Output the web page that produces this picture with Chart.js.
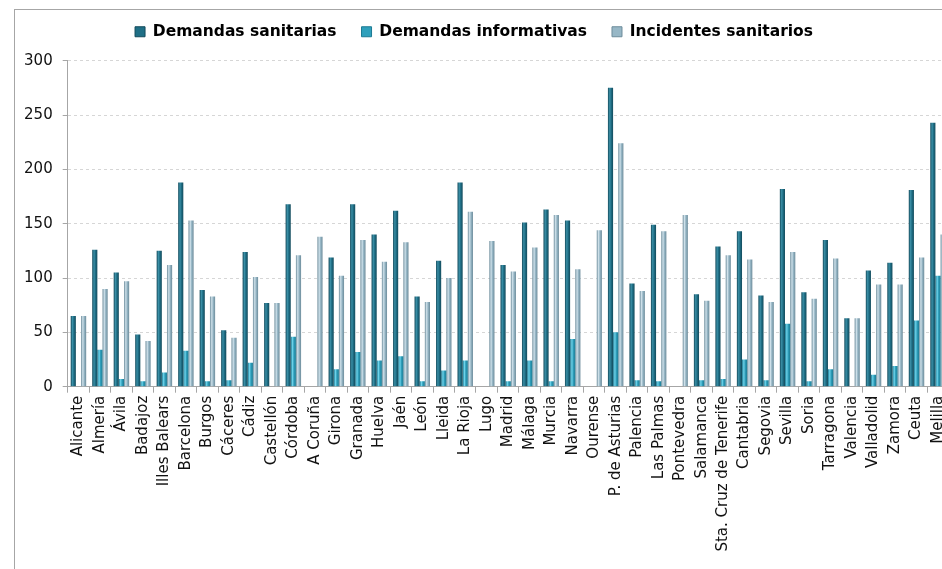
<!DOCTYPE html>
<html>
<head>
<meta charset="utf-8">
<script src="https://cdn.jsdelivr.net/npm/chart.js@4"></script>
<style>
  html, body { margin: 0; padding: 0; background: #fff; overflow: hidden; width: 942px; height: 569px; }
  #frame { position: absolute; left: 14px; top: 9px; width: 960px; height: 570px;
           border-left: 1px solid #a6a6a6; border-top: 1px solid #a6a6a6; }
  #wrap { position: absolute; left: 15px; top: 10px; width: 944px; height: 559px; }
</style>
</head>
<body>
<div id="frame"></div>
<div id="wrap"><canvas id="chart"></canvas></div>
<script>
const provincias = ["Alicante", "Almería", "Ávila", "Badajoz", "Illes Balears", "Barcelona", "Burgos",
  "Cáceres", "Cádiz", "Castellón", "Córdoba", "A Coruña", "Girona", "Granada", "Huelva", "Jaén",
  "León", "Lleida", "La Rioja", "Lugo", "Madrid", "Málaga", "Murcia", "Navarra", "Ourense",
  "P. de Asturias", "Palencia", "Las Palmas", "Pontevedra", "Salamanca", "Sta. Cruz de Tenerife",
  "Cantabria", "Segovia", "Sevilla", "Soria", "Tarragona", "Valencia", "Valladolid", "Zamora",
  "Ceuta", "Melilla"];
const sanitarias = [65, 126, 105, 48, 125, 188, 89, 52, 124, 77, 168, 0, 119, 168, 140, 162,
  83, 116, 188, 0, 112, 151, 163, 153, 0, 275, 95, 149, 0, 85, 129,
  143, 84, 182, 87, 135, 63, 107, 114, 181, 243];
const informativas = [0, 34, 7, 5, 13, 33, 5, 6, 22, 0, 46, 0, 16, 32, 24, 28,
  5, 15, 24, 0, 5, 24, 5, 44, 0, 50, 6, 5, 0, 6, 7,
  25, 6, 58, 5, 16, 0, 11, 19, 61, 102];
const incidentes = [65, 90, 97, 42, 112, 153, 83, 45, 101, 77, 121, 138, 102, 135, 115, 133,
  78, 100, 161, 134, 106, 128, 158, 108, 144, 224, 88, 143, 158, 79, 121,
  117, 78, 124, 81, 118, 63, 94, 94, 119, 140];
const yTicks = [0, 50, 100, 150, 200, 250, 300];

const catPct = 0.72;
// colores: borde oscuro, brillo, centro
const tonos = [
  ["#134a5b", "#3b8fa6", "#1f6f86"],
  ["#1c7a93", "#6fd3ea", "#2fa0bc"],
  ["#6d8c9b", "#cfe1ea", "#97b7c6"]
];

function barra(d) {
  return (c) => {
    const t = tonos[d];
    const xs = c.chart.scales && c.chart.scales.x;
    if (!xs || c.dataIndex === undefined) return t[2];
    const w = xs.width / provincias.length * catPct / 3;
    const cx = xs.getPixelForValue(c.dataIndex) + (d - 1) * w;
    const g = c.chart.ctx.createLinearGradient(cx - w / 2, 0, cx + w / 2, 0);
    g.addColorStop(0, t[0]);
    g.addColorStop(0.35, t[1]);
    g.addColorStop(0.6, t[2]);
    g.addColorStop(1, t[0]);
    return g;
  };
}

const font = { family: "DejaVu Sans", size: 15 };

const ajusteLeyenda = {
  id: "ajusteLeyenda",
  beforeInit(chart) {
    if (!chart.legend) return;
    const fit = chart.legend.fit;
    chart.legend.fit = function () {
      fit.bind(chart.legend)();
      this.height = 50.7;
    };
  },
  afterLayout(chart) {
    const l = chart.legend;
    if (!l) return;
    l.left -= 13; l.right -= 13;
    l.top -= 11; l.bottom -= 11;
  }
};

new Chart(document.getElementById("chart"), {
  type: "bar",
  data: {
    labels: provincias,
    datasets: [
      { label: "Demandas sanitarias", data: sanitarias, backgroundColor: barra(0) },
      { label: "Demandas informativas", data: informativas, backgroundColor: barra(1) },
      { label: "Incidentes sanitarios", data: incidentes, backgroundColor: barra(2) }
    ]
  },
  options: {
    responsive: true,
    maintainAspectRatio: false,
    animation: false,
    layout: { padding: { left: 0, right: 0, top: 0, bottom: 0 } },
    datasets: { bar: { categoryPercentage: catPct, barPercentage: 1, borderWidth: 0 } },
    plugins: {
      legend: {
        position: "top",
        labels: {
          color: "#000",
          font: { family: "DejaVu Sans", size: 15.5, weight: "bold" },
          boxWidth: 10,
          boxHeight: 10,
          padding: 25,
          generateLabels(chart) {
            return chart.data.datasets.map((ds, i) => ({
              text: ds.label,
              fillStyle: tonos[i][2],
              strokeStyle: tonos[i][0],
              lineWidth: 1,
              datasetIndex: i
            }));
          }
        }
      },
      tooltip: { enabled: false }
    },
    scales: {
      x: {
        offset: true,
        grid: { display: true, drawOnChartArea: false, offset: true, color: "#a6a6a6", tickLength: 6 },
        border: { display: true, color: "#a6a6a6" },
        ticks: { color: "#111", font: font, minRotation: 90, maxRotation: 90, autoSkip: false, padding: 3 },
        afterFit(scale) { scale.height = 182.3; }
      },
      y: {
        min: 0,
        max: 300,
        afterBuildTicks(scale) { scale.ticks = yTicks.map(v => ({ value: v })); },
        grid: { color: "#d6d6d6", tickColor: "#a6a6a6", tickLength: 5, tickBorderDash: [] },
        border: { display: true, color: "#a6a6a6", dash: [3, 3] },
        ticks: { color: "#111", font: font, padding: 10 },
        afterFit(scale) { scale.width = 52.7; }
      }
    }
  },
  plugins: [ajusteLeyenda]
});
</script>
</body>
</html>
